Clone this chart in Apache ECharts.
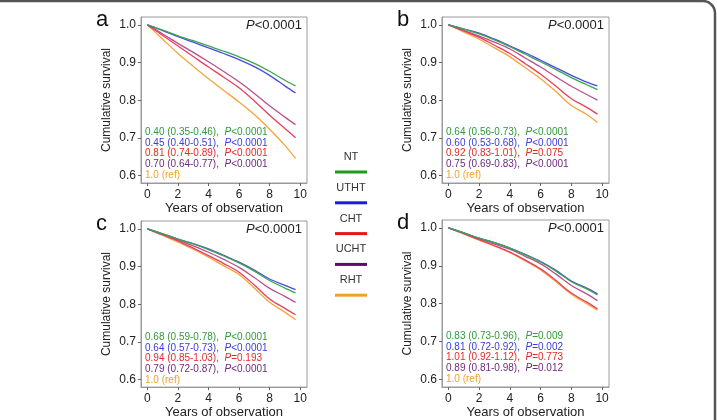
<!DOCTYPE html>
<html><head><meta charset="utf-8">
<script src="https://cdn.jsdelivr.net/npm/echarts@6/dist/echarts.min.js"></script>
<style>html,body{margin:0;padding:0;background:#fff}#c{width:717px;height:420px}</style>
</head><body><div id="c"></div>
<script>
// ---- data ----
var groups = ['NT', 'UTHT', 'CHT', 'UCHT', 'RHT'];
var years = [0, 1, 2, 3, 4, 5, 6, 7, 8, 9, 9.7];
var xTicks = [0, 2, 4, 6, 8, 10];
var yTicks = [0.6, 0.7, 0.8, 0.9, 1.0];
var panelLetters = ['a', 'b', 'c', 'd'];
var panelP = ['<0.0001', '<0.0001', '<0.0001', '<0.0001'];

// panel a
var aNT   = [1.0, 0.986, 0.971, 0.958, 0.944, 0.930, 0.915, 0.898, 0.877, 0.853, 0.838];
var aUTHT = [1.0, 0.985, 0.969, 0.954, 0.939, 0.924, 0.908, 0.889, 0.866, 0.838, 0.819];
var aCHT  = [1.0, 0.972, 0.944, 0.916, 0.888, 0.861, 0.833, 0.798, 0.760, 0.725, 0.700];
var aUCHT = [1.0, 0.976, 0.951, 0.927, 0.902, 0.876, 0.849, 0.818, 0.785, 0.755, 0.735];
var aRHT  = [1.0, 0.962, 0.924, 0.890, 0.857, 0.826, 0.795, 0.762, 0.723, 0.680, 0.645];
// panel b
var bNT   = [1.0, 0.989, 0.976, 0.960, 0.942, 0.922, 0.902, 0.881, 0.860, 0.841, 0.828];
var bUTHT = [1.0, 0.989, 0.978, 0.962, 0.944, 0.926, 0.906, 0.886, 0.866, 0.848, 0.838];
var bCHT  = [1.0, 0.984, 0.967, 0.946, 0.924, 0.897, 0.869, 0.837, 0.804, 0.781, 0.763];
var bUCHT = [1.0, 0.985, 0.970, 0.954, 0.936, 0.912, 0.888, 0.862, 0.837, 0.815, 0.800];
var bRHT  = [1.0, 0.981, 0.962, 0.939, 0.915, 0.886, 0.857, 0.823, 0.786, 0.762, 0.741];
// panel c
var cNT   = [1.0, 0.987, 0.973, 0.960, 0.945, 0.928, 0.910, 0.888, 0.863, 0.843, 0.830];
var cUTHT = [1.0, 0.987, 0.973, 0.961, 0.947, 0.930, 0.912, 0.891, 0.867, 0.850, 0.839];
var cCHT  = [1.0, 0.984, 0.968, 0.949, 0.929, 0.908, 0.885, 0.851, 0.814, 0.789, 0.772];
var cUCHT = [1.0, 0.986, 0.971, 0.955, 0.938, 0.919, 0.898, 0.871, 0.842, 0.821, 0.805];
var cRHT  = [1.0, 0.983, 0.965, 0.946, 0.925, 0.902, 0.879, 0.843, 0.805, 0.779, 0.759];
// panel d
var dNT   = [1.0, 0.987, 0.973, 0.961, 0.947, 0.929, 0.910, 0.886, 0.858, 0.839, 0.823];
var dUTHT = [1.0, 0.987, 0.973, 0.961, 0.947, 0.930, 0.911, 0.888, 0.860, 0.841, 0.826];
var dCHT  = [1.0, 0.985, 0.969, 0.953, 0.936, 0.915, 0.892, 0.861, 0.828, 0.804, 0.786];
var dUCHT = [1.0, 0.986, 0.971, 0.957, 0.944, 0.925, 0.905, 0.878, 0.848, 0.826, 0.808];
var dRHT  = [1.0, 0.984, 0.968, 0.952, 0.935, 0.913, 0.889, 0.858, 0.825, 0.800, 0.783];

// hazard ratio annotations
var aHR = ['0.40 (0.35-0.46)', '0.45 (0.40-0.51)', '0.81 (0.74-0.89)', '0.70 (0.64-0.77)'];
var aPv = ['<0.0001', '<0.0001', '<0.0001', '<0.0001'];
var bHR = ['0.64 (0.56-0.73)', '0.60 (0.53-0.68)', '0.92 (0.83-1.01)', '0.75 (0.69-0.83)'];
var bPv = ['<0.0001', '<0.0001', '=0.075', '<0.0001'];
var cHR = ['0.68 (0.59-0.78)', '0.64 (0.57-0.73)', '0.94 (0.85-1.03)', '0.79 (0.72-0.87)'];
var cPv = ['<0.0001', '<0.0001', '=0.193', '<0.0001'];
var dHR = ['0.83 (0.73-0.96)', '0.81 (0.72-0.92)', '1.01 (0.92-1.12)', '0.89 (0.81-0.98)'];
var dPv = ['=0.009', '=0.002', '=0.773', '=0.012'];
var refLabel = '1.0 (ref)';

// ---- styling / layout ----
var FONT = 'Liberation Sans, Arial, sans-serif';
var lineColors = ['#3aa64e', '#4a4ae6', '#e8405c', '#b8508e', '#f6a43a'];
var textColors = ['#2f9a3c', '#3b3be0', '#e42a2a', '#6e2a7e', '#f2a324'];
var legendColors = ['#1e9a1e', '#1a1ae0', '#ea1414', '#5c0a6c', '#f0a030'];
var panels = [
  {data: [aNT, aUTHT, aCHT, aUCHT, aRHT], hr: aHR, pv: aPv},
  {data: [bNT, bUTHT, bCHT, bUCHT, bRHT], hr: bHR, pv: bPv},
  {data: [cNT, cUTHT, cCHT, cUCHT, cRHT], hr: cHR, pv: cPv},
  {data: [dNT, dUTHT, dCHT, dUCHT, dRHT], hr: dHR, pv: dPv}
];
var grids = [
  {left: 141, top: 17, width: 166, height: 166},
  {left: 442, top: 17, width: 167, height: 166},
  {left: 141, top: 221, width: 166, height: 167},
  {left: 442, top: 220, width: 167, height: 167}
];

var option = {
  animation: false,
  backgroundColor: '#fff',
  textStyle: {fontFamily: FONT},
  grid: [], xAxis: [], yAxis: [], series: [], graphic: []
};

panels.forEach(function (p, pi) {
  var g = grids[pi];
  option.grid.push({left: g.left, top: g.top, width: g.width, height: g.height,
    show: true, borderColor: '#9a9a9a', borderWidth: 1, backgroundColor: 'transparent'});
  option.xAxis.push({
    type: 'value', gridIndex: pi, min: -0.42, max: 10.45, position: 'bottom',
    name: 'Years of observation', nameLocation: 'middle', nameGap: 17,
    nameTextStyle: {fontSize: 13, color: '#222', fontFamily: FONT},
    axisLine: {show: true, onZero: false, lineStyle: {color: '#9a9a9a', width: 1}},
    splitLine: {show: false},
    axisTick: {show: true, length: 3, inside: false, customValues: xTicks, lineStyle: {color: '#666'}},
    axisLabel: {customValues: xTicks, fontSize: 12, color: '#222', margin: 6, fontFamily: FONT}
  });
  option.yAxis.push({
    type: 'value', gridIndex: pi, min: 0.58, max: 1.021, position: 'left',
    name: 'Cumulative survival', nameLocation: 'middle', nameGap: 28,
    nameTextStyle: {fontSize: 12, color: '#222', fontFamily: FONT},
    axisLine: {show: true, onZero: false, lineStyle: {color: '#9a9a9a', width: 1}},
    splitLine: {show: false},
    axisTick: {show: true, length: 3, inside: false, customValues: yTicks, lineStyle: {color: '#666'}},
    axisLabel: {customValues: yTicks, fontSize: 12, color: '#222', margin: 5, fontFamily: FONT,
      formatter: function (v) { return v.toFixed(1); }}
  });
  p.data.forEach(function (vals, gi) {
    option.series.push({
      type: 'line', name: groups[gi], xAxisIndex: pi, yAxisIndex: pi,
      data: years.map(function (x, i) { return [x, vals[i]]; }),
      showSymbol: false, smooth: 0.35, silent: true,
      lineStyle: {width: 1.3, color: lineColors[gi]}, z: 10 - gi
    });
  });
  // panel letter
  option.graphic.push({type: 'text', left: g.left - 45, top: g.top - 8,
    style: {text: panelLetters[pi], font: '22px ' + FONT, fill: '#111'}});
  // P value top right
  option.graphic.push({type: 'text', right: 717 - (g.left + g.width) + 5, top: g.top + 2,
    style: {text: '{i|P}{n|' + panelP[pi] + '}',
      rich: {i: {fontStyle: 'italic', fontSize: 13, fill: '#222', fontFamily: FONT},
             n: {fontSize: 13, fill: '#222', fontFamily: FONT}}}});
  // HR annotations
  var lines = p.hr.map(function (h, k) {
    return '{n' + k + '|' + h + ',  }{i' + k + '|P}{n' + k + '|' + p.pv[k] + '}';
  });
  lines.push('{n4|' + refLabel + '}');
  var rich = {};
  for (var k = 0; k < 5; k++) {
    rich['n' + k] = {fontSize: 10, fill: textColors[k], fontFamily: FONT, lineHeight: 10.8};
    rich['i' + k] = {fontSize: 10, fill: textColors[k], fontStyle: 'italic', fontFamily: FONT, lineHeight: 10.8};
  }
  option.graphic.push({type: 'text', left: g.left + 4, top: g.top + g.height - 56,
    style: {text: lines.join('\n'), rich: rich}});
});

// central legend
groups.forEach(function (name, gi) {
  var ty = 157 + gi * 30.8;
  option.graphic.push({type: 'text', x: 351, y: ty, style: {text: name, font: '11px ' + FONT,
    fill: '#333', textAlign: 'center', textVerticalAlign: 'middle'}});
  option.graphic.push({type: 'line', shape: {x1: 335, y1: ty + 15, x2: 367, y2: ty + 15},
    style: {stroke: legendColors[gi], lineWidth: 3}});
});

// outer frame
option.graphic.push({type: 'rect', shape: {x: -20, y: 1, width: 735, height: 450, r: 12},
  style: {fill: 'none', stroke: '#555', lineWidth: 2.5}, z: 100});

var chart = echarts.init(document.getElementById('c'), null, {renderer: 'canvas'});
chart.setOption(option);
</script>
</body></html>
